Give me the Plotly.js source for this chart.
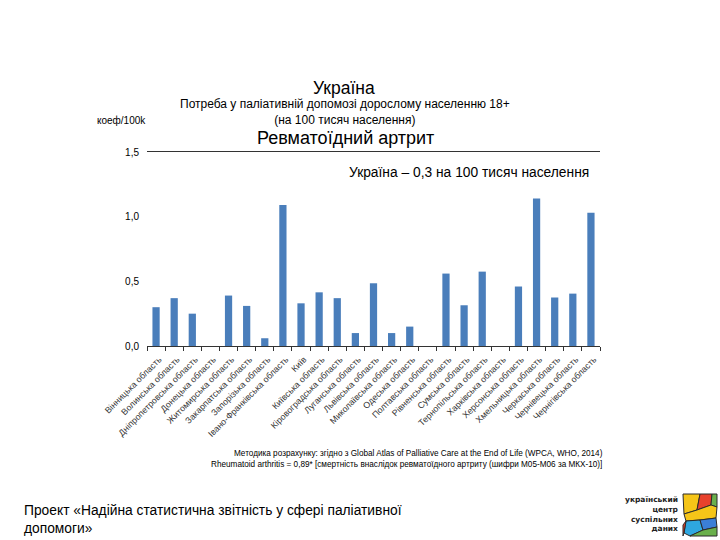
<!DOCTYPE html>
<html>
<head>
<meta charset="utf-8">
<script src="https://cdn.plot.ly/plotly-3.0.1.min.js"></script>
<style>html,body{margin:0;padding:0;background:#fff}#chart{width:720px;height:540px}</style>
</head>
<body>
<div id="chart"></div>
<script>
const regions = [
  "Вінницька область","Волинська область","Дніпропетровська область","Донецька область",
  "Житомирська область","Закарпатська область","Запорізька область","Івано-Франківська область",
  "Київ","Київська область","Кіровоградська область","Луганська область","Львівська область",
  "Миколаївська область","Одеська область","Полтавська область","Рівненська область",
  "Сумська область","Тернопільська область","Харківська область","Херсонська область",
  "Хмельницька область","Черкаська область","Чернівецька область","Чернігівська область"
];
const values = [
  0.30, 0.37, 0.25, 0.00,
  0.39, 0.31, 0.06, 1.09,
  0.33, 0.415, 0.37, 0.10, 0.485,
  0.10, 0.15, 0.00, 0.56,
  0.315, 0.575, 0.00, 0.46,
  1.14, 0.375, 0.405, 1.03
];
const yTicks = [0, 0.5, 1.0, 1.5];
const titleMain = "Україна";
const subtitle = "Потреба у паліативній допомозі дорослому населенню 18+<br>(на 100 тисяч населення)";
const diseaseTitle = "Ревматоїдний артрит";
const unitLabel = "коеф/100k";
const nationalNote = "Україна – 0,3 на 100 тисяч населення";
const methodNote = "Методика розрахунку: згідно з Global Atlas of Palliative Care at the End of Life (WPCA, WHO, 2014)<br>Rheumatoid arthritis = 0,89* [смертність внаслідок ревматоїдного артриту (шифри M05-M06 за МКХ-10)]";
const projectNote = "Проект «Надійна статистична звітність у сфері паліативної<br>допомоги»";
const logoText = "український<br>центр<br>суспільних<br>даних";

// plot area in pixels
const L = 147, R = 600, T = 152, B = 346;
const px = x => (x - L) / (R - L);
const py = y => (B - y) / (B - T);
function path(pts){ return 'M' + pts.map(p => px(p[0]).toFixed(4) + ',' + py(p[1]).toFixed(4)).join('L') + 'Z'; }
function poly(pts, color){
  return {type:'path', xref:'paper', yref:'paper', path:path(pts), fillcolor:color,
          line:{color:'#2b2b2b', width:1}, layer:'above'};
}

const font = "Liberation Sans, Arial, sans-serif";

const trace = {
  type: 'bar',
  x: regions,
  y: values,
  marker: {color: '#4A7EBB', line: {width: 0}},
  hoverinfo: 'skip'
};

const annotations = [
  {text: titleMain, x: px(344), y: py(88), font:{size:17.5, color:'#000'}},
  {text: subtitle, x: px(345), y: py(112), font:{size:12, color:'#000'}},
  {text: diseaseTitle, x: px(345), y: py(138), font:{size:18, color:'#000'}},
  {text: unitLabel, x: px(95), y: py(121), xanchor:'left', font:{size:10, color:'#000'}},
  {text: nationalNote, x: px(347), y: py(172), xanchor:'left', font:{size:13.8, color:'#000'}},
  {text: methodNote, x: px(605), y: py(459), xanchor:'right', align:'right', font:{size:8.2, color:'#000'}},
  {text: projectNote, x: px(22), y: py(519), xanchor:'left', align:'left', font:{size:13.8, color:'#000'}},
  {text: "<b>" + logoText + "</b>", x: px(681), y: py(514), xanchor:'right', align:'right',
   font:{size:7.5, color:'#222', family:'DejaVu Sans, sans-serif'}}
].map(a => Object.assign({xref:'paper', yref:'paper', showarrow:false, xanchor:'center', yanchor:'middle'}, a));

const shapes = [
  poly([[683,494],[700,494],[697,510],[684,514]], '#F5C518'),
  poly([[700,494],[712,494],[711,505],[697,510]], '#E8412C'),
  poly([[712,494],[717,494],[717,507],[711,505]], '#6AB04C'),
  poly([[684,514],[697,510],[711,505],[717,507],[716,518],[700,520],[686,521]], '#F5C518'),
  poly([[686,521],[700,520],[703,530],[690,536],[684,533]], '#2EA7E0'),
  poly([[700,520],[716,518],[717,527],[703,530]], '#3B7FD6'),
  poly([[703,530],[717,527],[717,536],[690,536]], '#6AB04C'),
  poly([[683,525],[686,521],[684,533],[683,536]], '#E8412C')
];

const layout = {
  width: 720, height: 540,
  margin: {l: L, r: 720 - R, t: T, b: 540 - B, pad: 0},
  paper_bgcolor: '#fff', plot_bgcolor: '#fff',
  separators: ', ',
  font: {family: font, color: '#000'},
  showlegend: false,
  bargap: 0.6,
  xaxis: {
    type: 'category',
    tickangle: -45,
    tickfont: {size: 8.8, color: '#333', family: font},
    showline: true, mirror: true, linecolor: '#333', linewidth: 1,
    ticks: 'outside', ticklen: 4, tickcolor: '#333', tickson: 'boundaries',
    ticklabelstandoff: 4, ticklabelshift: 3,
    showgrid: false, zeroline: false, fixedrange: true
  },
  yaxis: {
    range: [0, 1.5],
    tickvals: yTicks,
    tickformat: '.1f',
    tickfont: {size: 10, color: '#000', family: font},
    showline: false, showgrid: false, zeroline: false,
    ticks: '', ticklabelstandoff: 7, fixedrange: true
  },
  annotations: annotations,
  shapes: shapes
};

Plotly.newPlot('chart', [trace], layout, {displayModeBar: false, staticPlot: true});
</script>
</body>
</html>
